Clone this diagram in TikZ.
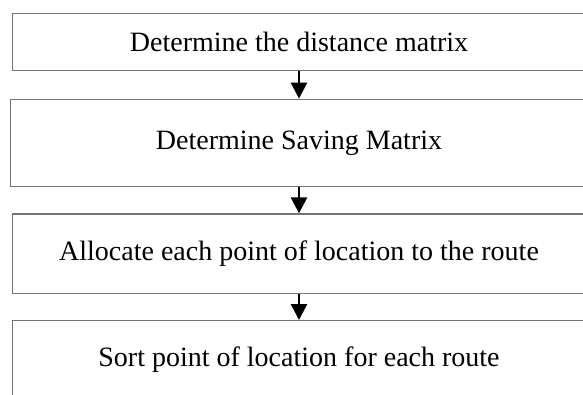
\documentclass[tikz,border=0pt]{standalone}
\usepackage{fontspec}
\setmainfont{Liberation Serif}
\usetikzlibrary{arrows.meta}
\tikzset{
  stepbox/.style={draw=black!55, line width=1.4pt, rectangle, inner sep=0pt,
    font=\fontsize{28}{32}\selectfont, text=black},
  arr/.style={line width=2.6pt, -{Triangle[width=16pt,length=16pt]}}
}
\begin{document}
\begin{tikzpicture}[x=1pt,y=1pt]
\useasboundingbox (0,0) rectangle (583,-394);
\clip (0,0) rectangle (583,-394);
\node[stepbox, minimum width=573pt, minimum height=57.3pt] (b1) at (299,-42) {Determine the distance matrix};
\node[stepbox, minimum width=577pt, minimum height=87.4pt] (b2) at (299,-143) {Determine Saving Matrix};
\node[stepbox, minimum width=573pt, minimum height=79.3pt] (b3) at (299,-253.7) {Allocate each point of location to the route};
\node[stepbox, minimum width=573pt, minimum height=78pt] (b4) at (299,-359.7) {Sort point of location for each route};
\draw[arr] (b1.south) -- (b2.north);
\draw[arr] (b2.south) -- (b3.north);
\draw[arr] (b3.south) -- (b4.north);
\end{tikzpicture}
\end{document}
